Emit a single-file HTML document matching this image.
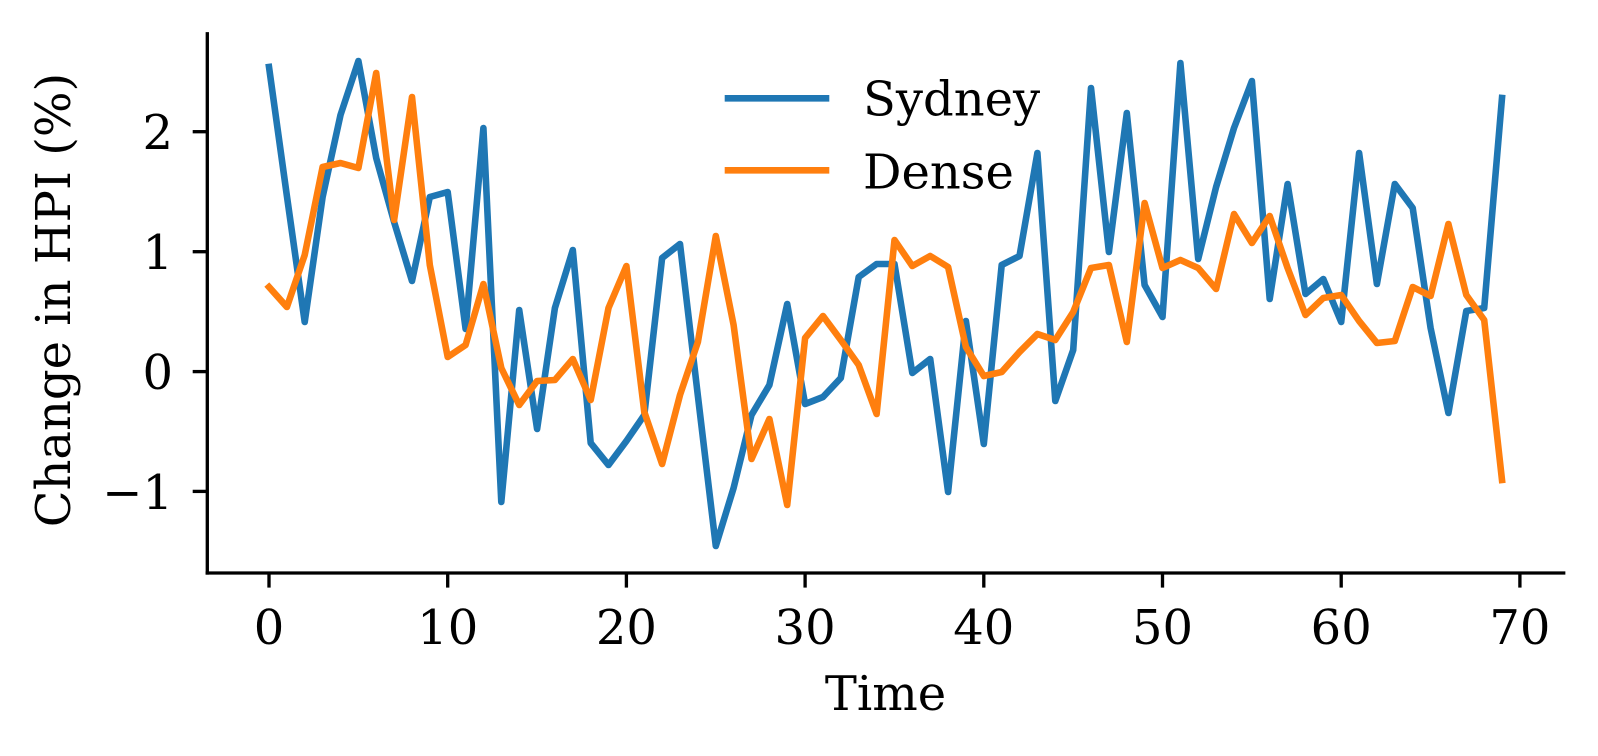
<!DOCTYPE html>
<html>
<head>
<meta charset="utf-8">
<style>
  html, body { margin: 0; padding: 0; background: #ffffff; }
  svg { display: block; }
  text { font-family: "DejaVu Serif", "Liberation Serif", serif; fill: #000; }
</style>
</head>
<body>
<svg width="1598" height="756" viewBox="0 0 1598 756" xmlns="http://www.w3.org/2000/svg">
  <rect x="0" y="0" width="1598" height="756" fill="#ffffff"/>

  <!-- Series: Sydney -->
  <polyline fill="none" stroke="#1f77b4" stroke-width="6.6" stroke-linejoin="round" stroke-linecap="square"
    points="269,67 286.9,196 304.7,322 322.6,197 340.5,115 358.4,61 376.2,158 394.1,222 412,281 429.8,197 447.7,192 465.6,329 483.4,128 501.3,502 519.2,310 537.1,429 554.9,308 572.8,250 590.7,443 608.5,465 626.4,441 644.3,415 662.1,258 680,244 697.9,396 715.8,546 733.6,488 751.5,415 769.4,385 787.2,304 805.1,404 823,397 840.8,378 858.7,277 876.6,264 894.5,264 912.3,373 930.2,359 948.1,492 965.9,321 983.8,444 1001.7,265 1019.5,256 1037.4,153 1055.3,401 1073.2,350 1091,88 1108.9,252 1126.8,113 1144.6,285 1162.5,317 1180.4,63 1198.2,259 1216.1,187 1234,128 1251.9,81 1269.7,299 1287.6,184 1305.5,294 1323.3,279 1341.2,322 1359.1,153 1376.9,284 1394.8,184 1412.7,208 1430.6,328 1448.4,413 1466.3,311 1484.2,308 1502,98"/>

  <!-- Series: Dense -->
  <polyline fill="none" stroke="#ff7f0e" stroke-width="6.6" stroke-linejoin="round" stroke-linecap="square"
    points="269,287 286.9,307 304.7,255 322.6,167 340.5,163 358.4,168 376.2,73 394.1,220 412,97 429.8,265 447.7,357 465.6,345 483.4,284 501.3,368 519.2,405 537.1,381 554.9,380 572.8,359 590.7,400 608.5,308 626.4,266 644.3,412 662.1,464 680,395 697.9,342 715.8,236 733.6,325 751.5,459 769.4,419 787.2,505 805.1,338 823,316 840.8,340 858.7,365 876.6,414 894.5,240 912.3,266 930.2,256 948.1,267 965.9,347 983.8,376 1001.7,372 1019.5,352 1037.4,334 1055.3,340 1073.2,312 1091,268 1108.9,265 1126.8,342 1144.6,203 1162.5,268 1180.4,260 1198.2,268 1216.1,289 1234,214 1251.9,243 1269.7,216 1287.6,268 1305.5,315 1323.3,298 1341.2,295 1359.1,321 1376.9,343 1394.8,341 1412.7,287 1430.6,296 1448.4,224 1466.3,295 1484.2,320 1502,480"/>

  <!-- Spines -->
  <line x1="207.3" y1="33.8" x2="207.3" y2="573" stroke="#000" stroke-width="3.33" stroke-linecap="square"/>
  <line x1="207.3" y1="573" x2="1563.7" y2="573" stroke="#000" stroke-width="3.33" stroke-linecap="square"/>

  <!-- Y ticks -->
  <g stroke="#000" stroke-width="3.33">
    <line x1="192.7" y1="131.7" x2="207.3" y2="131.7"/>
    <line x1="192.7" y1="251.7" x2="207.3" y2="251.7"/>
    <line x1="192.7" y1="371.6" x2="207.3" y2="371.6"/>
    <line x1="192.7" y1="491.4" x2="207.3" y2="491.4"/>
  </g>
  <g font-size="48" text-anchor="end">
    <text x="173" y="149.2">2</text>
    <text x="173" y="269.2">1</text>
    <text x="173" y="389.1">0</text>
    <text x="173" y="508.9">−1</text>
  </g>

  <!-- X ticks -->
  <g stroke="#000" stroke-width="3.33">
    <line x1="269" y1="573" x2="269" y2="587.6"/>
    <line x1="447.7" y1="573" x2="447.7" y2="587.6"/>
    <line x1="626.4" y1="573" x2="626.4" y2="587.6"/>
    <line x1="805.1" y1="573" x2="805.1" y2="587.6"/>
    <line x1="983.8" y1="573" x2="983.8" y2="587.6"/>
    <line x1="1162.5" y1="573" x2="1162.5" y2="587.6"/>
    <line x1="1341.2" y1="573" x2="1341.2" y2="587.6"/>
    <line x1="1519.9" y1="573" x2="1519.9" y2="587.6"/>
  </g>
  <g font-size="48" text-anchor="middle">
    <text x="269" y="644">0</text>
    <text x="447.7" y="644">10</text>
    <text x="626.4" y="644">20</text>
    <text x="805.1" y="644">30</text>
    <text x="983.8" y="644">40</text>
    <text x="1162.5" y="644">50</text>
    <text x="1341.2" y="644">60</text>
    <text x="1519.9" y="644">70</text>
  </g>

  <!-- Axis labels -->
  <text x="885.5" y="710" font-size="48" text-anchor="middle">Time</text>
  <text transform="translate(70,300) rotate(-90)" font-size="48" text-anchor="middle">Change in HPI (%)</text>

  <!-- Legend -->
  <line x1="728" y1="98.3" x2="826" y2="98.3" stroke="#1f77b4" stroke-width="6.6" stroke-linecap="square"/>
  <line x1="728" y1="170.3" x2="826" y2="170.3" stroke="#ff7f0e" stroke-width="6.6" stroke-linecap="square"/>
  <text x="863" y="115.7" font-size="48">Sydney</text>
  <text x="863" y="188.3" font-size="48">Dense</text>
</svg>
</body>
</html>
